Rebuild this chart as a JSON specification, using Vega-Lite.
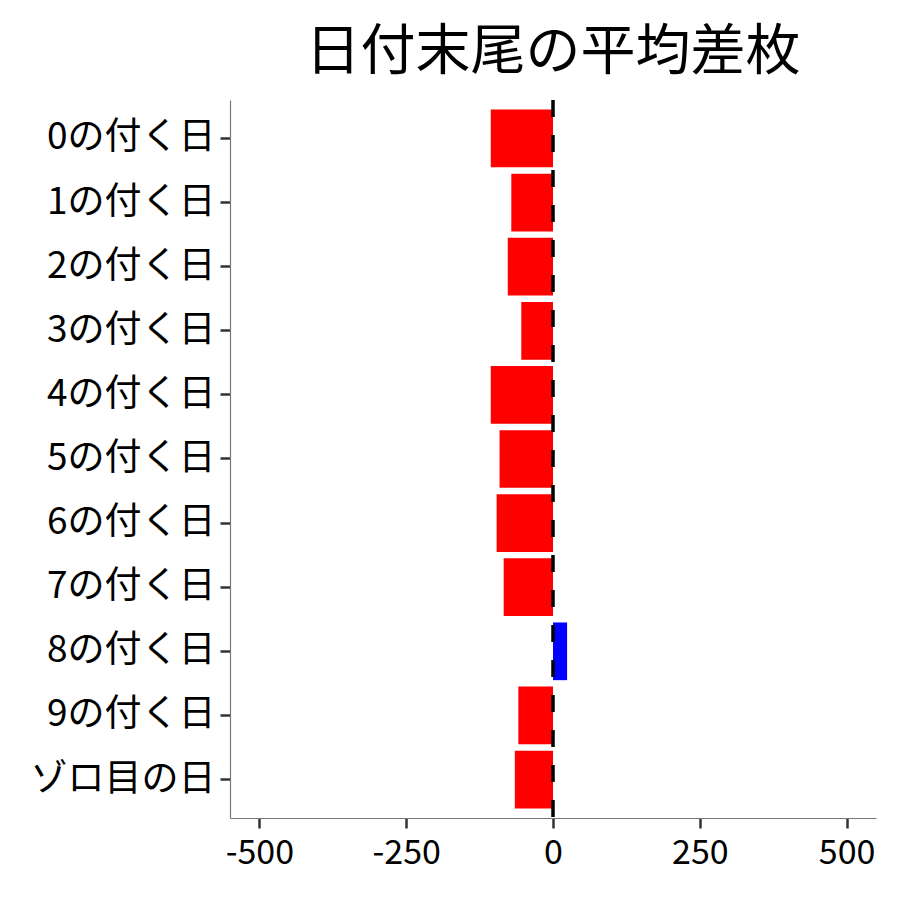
{
  "$schema": "https://vega.github.io/schema/vega-lite/v6.json",
  "description": "日付末尾ごとの平均差枚",
  "width": 646,
  "height": 718,
  "autosize": "none",
  "padding": {"left": 230, "top": 100, "right": 24, "bottom": 82},
  "background": "white",
  "config": {
    "font": "Noto Sans CJK JP",
    "view": {"stroke": null}
  },
  "title": {
    "text": "日付末尾の平均差枚",
    "fontSize": 55,
    "fontWeight": "normal",
    "color": "black",
    "anchor": "middle",
    "frame": "group",
    "offset": 17
  },
  "layer": [
    {
      "data": {
        "values": [
          {"day": "0の付く日", "diff": -106},
          {"day": "1の付く日", "diff": -71},
          {"day": "2の付く日", "diff": -77},
          {"day": "3の付く日", "diff": -54},
          {"day": "4の付く日", "diff": -106},
          {"day": "5の付く日", "diff": -91},
          {"day": "6の付く日", "diff": -96},
          {"day": "7の付く日", "diff": -84},
          {"day": "8の付く日", "diff": 24},
          {"day": "9の付く日", "diff": -59},
          {"day": "ゾロ目の日", "diff": -65}
        ]
      },
      "mark": {"type": "bar"},
      "encoding": {
        "y": {
          "field": "day",
          "type": "nominal",
          "sort": null,
          "scale": {"paddingInner": 0.1, "paddingOuter": 0.15},
          "axis": {
            "title": null,
            "labelFontSize": 37,
            "labelLimit": 300,
            "labelColor": "black",
            "labelPadding": 5,
            "tickSize": 10,
            "tickWidth": 2.5,
            "tickColor": "#333333",
            "domainColor": "#777777",
            "domainWidth": 1.2,
            "grid": false
          }
        },
        "x": {
          "field": "diff",
          "type": "quantitative",
          "scale": {"domain": [-550, 550], "nice": false, "zero": false},
          "axis": {
            "title": null,
            "values": [-500, -250, 0, 250, 500],
            "labelExpr": "replace(datum.label, '−', '-')",
            "labelFontSize": 34,
            "labelColor": "black",
            "labelPadding": 8,
            "tickSize": 10,
            "tickWidth": 2.5,
            "tickColor": "#333333",
            "domainColor": "#777777",
            "domainWidth": 1.2,
            "grid": false
          }
        },
        "color": {
          "condition": {"test": "datum.diff < 0", "value": "#FF0000"},
          "value": "#0000FF"
        }
      }
    },
    {
      "data": {"values": [{}]},
      "mark": {"type": "rule", "color": "black", "strokeWidth": 3.5, "strokeDash": [17, 18]},
      "encoding": {
        "x": {"datum": 0, "type": "quantitative"}
      }
    }
  ]
}
